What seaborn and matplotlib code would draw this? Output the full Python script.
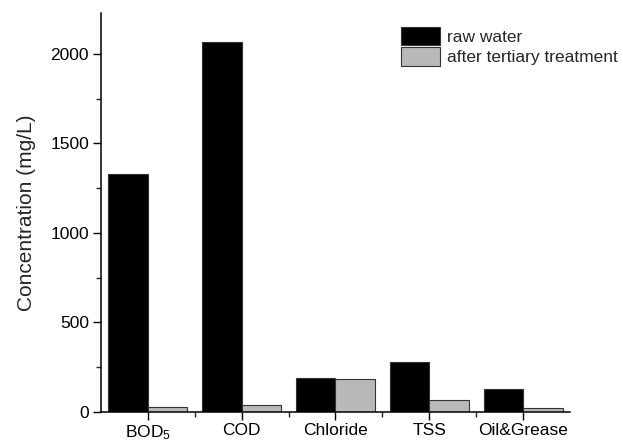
import numpy as np
import pandas as pd
import matplotlib
matplotlib.use("Agg")
import matplotlib.pyplot as plt
from matplotlib.ticker import MultipleLocator, FixedLocator
import seaborn as sns

# ── Data ─────────────────────────────────────────────────────────────────────
categories = ["BOD$_\\mathregular{5}$", "COD", "Chloride", "TSS", "Oil&Grease"]
raw_water  = [1330, 2065, 190, 276, 129]
tertiary   = [24, 37, 183, 65, 21]
series     = ["raw water", "after tertiary treatment"]

df = pd.DataFrame({
    "parameter": categories * 2,
    "value": raw_water + tertiary,
    "stage": [series[0]] * len(categories) + [series[1]] * len(categories),
})

# ── Style ────────────────────────────────────────────────────────────────────
sns.set_style("ticks")
plt.rcParams["font.family"] = ["Liberation Sans", "DejaVu Sans"]
plt.rcParams["mathtext.fontset"] = "custom"
plt.rcParams["mathtext.rm"] = "Liberation Sans"
plt.rcParams["mathtext.it"] = "Liberation Sans:italic"
plt.rcParams["mathtext.bf"] = "Liberation Sans:bold"

fig = plt.figure(figsize=(6.23, 4.46), dpi=100)
ax = fig.add_axes([0.162, 0.077, 0.753, 0.894])

sns.barplot(data=df, x="parameter", y="value", hue="stage",
            palette=["#000000", "#b9b9b9"], width=0.84, gap=0,
            edgecolor="#333333", linewidth=0.8, ax=ax)

ax.set_xlim(-0.5, 4.5)
ax.set_ylim(0, 2230)
ax.yaxis.set_major_locator(MultipleLocator(500))
ax.yaxis.set_minor_locator(MultipleLocator(250))
ax.xaxis.set_minor_locator(FixedLocator([0.5, 1.5, 2.5, 3.5]))
ax.tick_params(which="major", direction="out", length=6, width=1,
               labelsize=12.5, colors="black", pad=2.5)
ax.tick_params(which="minor", direction="out", length=3.5, width=1)

ax.set_xlabel("")
ax.set_ylabel("Concentration (mg/L)", fontsize=15, labelpad=10)
sns.despine(ax=ax)
for s in ["left", "bottom"]:
    ax.spines[s].set_linewidth(1.1)
    ax.spines[s].set_color("black")

leg = ax.legend(loc="upper left", bbox_to_anchor=(0.643, 0.94),
                bbox_transform=fig.transFigure, frameon=False,
                fontsize=12.5, handlelength=2.25, handleheight=1.25,
                labelspacing=0.12, handletextpad=0.45, borderpad=0,
                borderaxespad=0)

fig.savefig("out.png", dpi=100)
